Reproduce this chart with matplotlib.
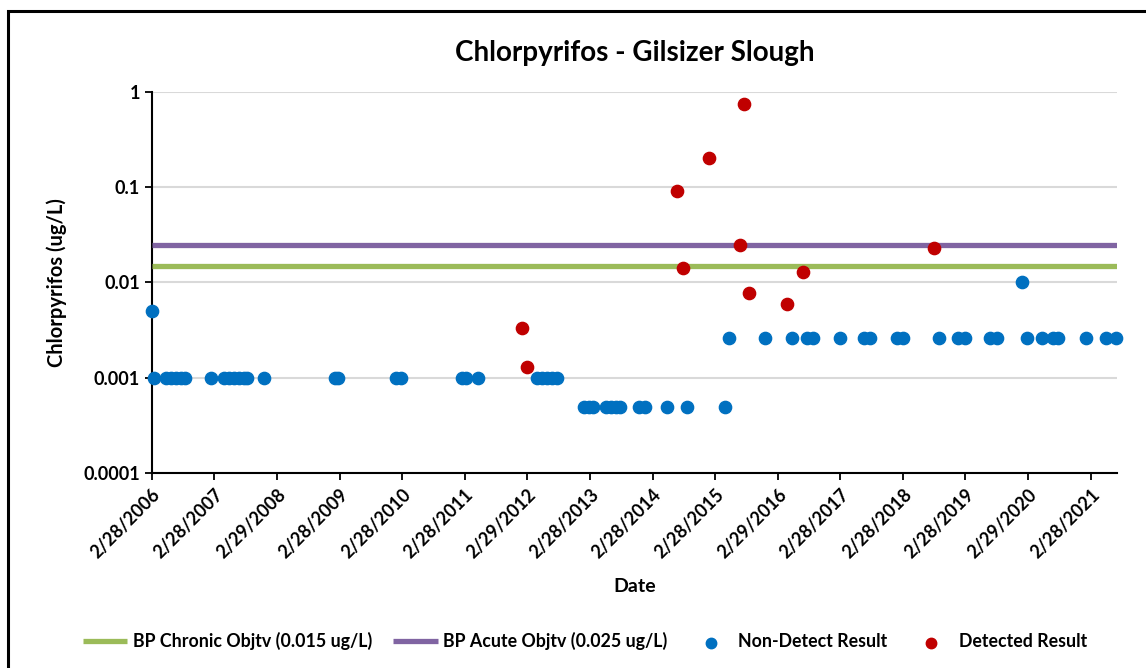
import pandas as pd
import matplotlib
matplotlib.use("Agg")
import matplotlib.pyplot as plt
from matplotlib.patches import Rectangle

plt.rcParams["font.family"] = ["Lato", "DejaVu Sans"]
plt.rcParams["font.weight"] = "bold"

# データ
nd_dates = ["2006-02-28", "2006-03-14", "2006-05-22", "2006-06-21", "2006-07-20", "2006-08-18",
            "2006-09-13", "2007-02-06", "2007-04-23", "2007-05-22", "2007-06-21", "2007-07-20",
            "2007-08-18", "2007-09-09", "2007-12-16", "2009-02-02", "2009-02-17", "2010-01-23",
            "2010-02-21", "2011-02-14", "2011-03-10", "2011-05-15", "2012-04-23", "2012-05-22",
            "2012-06-21", "2012-07-20", "2012-08-18",
            "2013-01-26", "2013-02-21", "2013-03-18", "2013-06-03", "2013-06-29", "2013-07-27",
            "2013-08-22", "2013-12-13", "2014-01-15", "2014-05-26", "2014-09-20", "2015-04-27",
            "2015-05-19", "2015-12-16", "2016-05-19", "2016-08-15", "2016-09-24", "2017-02-28",
            "2017-07-16", "2017-08-18", "2018-01-23", "2018-02-28", "2018-09-24", "2019-01-15",
            "2019-02-25", "2019-07-20", "2019-08-29", "2020-01-23", "2020-02-21", "2020-05-22",
            "2020-07-23", "2020-08-22", "2021-01-30", "2021-05-26", "2021-07-23"]
nd_vals = [0.005, 0.001, 0.001, 0.001, 0.001, 0.001,
           0.001, 0.001, 0.001, 0.001, 0.001, 0.001,
           0.001, 0.001, 0.001, 0.001, 0.001, 0.001,
           0.001, 0.001, 0.001, 0.001, 0.001, 0.001,
           0.001, 0.001, 0.001,
           0.0005, 0.0005, 0.0005, 0.0005, 0.0005, 0.0005,
           0.0005, 0.0005, 0.0005, 0.0005, 0.0005, 0.0005,
           0.0026, 0.0026, 0.0026, 0.0026, 0.0026, 0.0026,
           0.0026, 0.0026, 0.0026, 0.0026, 0.0026, 0.0026,
           0.0026, 0.0026, 0.0026, 0.01, 0.0026, 0.0026,
           0.0026, 0.0026, 0.0026, 0.0026, 0.0026]

det_dates = ["2012-01-26", "2012-02-24", "2014-07-20", "2014-08-22", "2015-01-23", "2015-07-23",
             "2015-08-18", "2015-09-16", "2016-04-23", "2016-07-23", "2018-08-29"]
det_vals = [0.0033, 0.0013, 0.09, 0.0143, 0.2, 0.025,
            0.74, 0.0078, 0.006, 0.013, 0.023]

chronic = 0.015
acute = 0.025

tick_labels = ["2/28/2006", "2/28/2007", "2/29/2008", "2/28/2009", "2/28/2010", "2/28/2011",
               "2/29/2012", "2/28/2013", "2/28/2014", "2/28/2015", "2/29/2016", "2/28/2017",
               "2/28/2018", "2/28/2019", "2/29/2020", "2/28/2021"]
y_ticks = [0.0001, 0.001, 0.01, 0.1, 1]
y_labels = ["0.0001", "0.001", "0.01", "0.1", "1"]

x_min = pd.Timestamp("2006-02-28")
x_max = pd.Timestamp("2021-07-31")

fig = plt.figure(figsize=(11.46, 6.68), dpi=100)
ax = fig.add_axes([0.1324, 0.2915, 0.9747 - 0.1324, 0.8627 - 0.2915])

# 外枠
fig.patches.append(Rectangle((8 / 1146, -0.1), 1.2, 1 - 11 / 668 + 0.1, transform=fig.transFigure,
                             fill=False, edgecolor="black", linewidth=2.2))

ax.set_yscale("log")
ax.set_ylim(0.0001, 1)
ax.set_xlim(x_min, x_max)

ax.hlines(chronic, x_min, x_max, color="#9BBB59", linewidth=3.8, label="BP Chronic Objtv (0.015 ug/L)", zorder=3)
ax.hlines(acute, x_min, x_max, color="#8064A2", linewidth=3.8, label="BP Acute Objtv (0.025 ug/L)", zorder=3)
ax.scatter(pd.to_datetime(nd_dates), nd_vals, s=78, color="#0070C0", label="Non-Detect Result", zorder=4, clip_on=False)
ax.scatter(pd.to_datetime(det_dates), det_vals, s=78, color="#C00000", label="Detected Result", zorder=5, clip_on=False)

ax.set_yticks(y_ticks)
ax.set_yticklabels(y_labels)
ax.yaxis.set_minor_locator(matplotlib.ticker.NullLocator())
ax.grid(axis="y", color="#D9D9D9", linewidth=1.5)
ax.set_axisbelow(True)

ticks = pd.to_datetime(tick_labels, format="%m/%d/%Y")
ax.set_xticks(ticks)
ax.set_xticklabels(tick_labels, rotation=45, ha="right", rotation_mode="anchor")

ax.tick_params(axis="both", labelsize=13, length=5, width=1.3, color="black")
ax.tick_params(axis="x", pad=4)
for s in ["top", "right"]:
    ax.spines[s].set_visible(False)
for s in ["left", "bottom"]:
    ax.spines[s].set_linewidth(1.5)

ax.set_title("Chlorpyrifos - Gilsizer Slough", fontsize=20, fontweight="bold", pad=22)
ax.set_ylabel("Chlorpyrifos (ug/L)", fontsize=14.5, fontweight="bold", labelpad=12)
ax.set_xlabel("Date", fontsize=14, fontweight="bold", labelpad=12)

fig.legend(loc="center", bbox_to_anchor=(0.5105, 0.04), ncol=4, frameon=False,
           fontsize=12.8, handlelength=2.5, columnspacing=1.2, handletextpad=0.3,
           markerscale=0.85)

fig.savefig("out.png", dpi=100)
